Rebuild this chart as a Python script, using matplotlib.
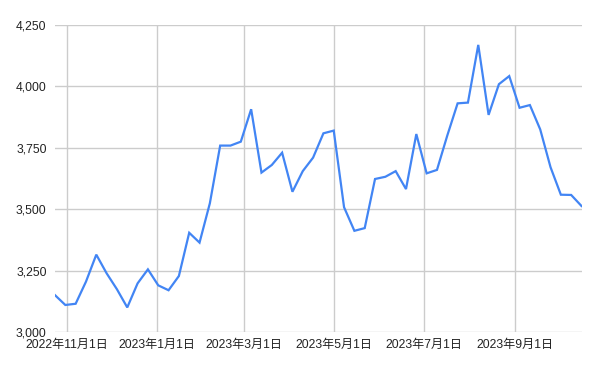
import matplotlib

matplotlib.use("Agg")
import matplotlib.dates as mdates
import matplotlib.pyplot as plt
import numpy as np
import pandas as pd
from matplotlib.ticker import FuncFormatter

plt.rcParams["font.family"] = ["Liberation Sans", "Noto Sans CJK JP", "DejaVu Sans"]

# weekly values
start = "2022-10-24"
values = [
    3150, 3110, 3115, 3205, 3315, 3239, 3174, 3100, 3198, 3255,
    3190, 3170, 3228, 3404, 3364, 3524, 3759, 3759, 3775, 3907,
    3649, 3680, 3730, 3571, 3655, 3710, 3809, 3820, 3508, 3412,
    3423, 3623, 3632, 3655, 3582, 3806, 3646, 3660, 3800, 3931,
    3934, 4169, 3884, 4009, 4042, 3913, 3924, 3825, 3671, 3559,
    3558, 3513,
]
dates = pd.date_range(start, periods=len(values), freq="7D")
y_ticks = [3000, 3250, 3500, 3750, 4000, 4250]

fig = plt.figure(figsize=(6, 3.71), dpi=100)
ax = fig.add_axes([55 / 600, 39 / 371, 526.5 / 600, 307 / 371])
ax.plot(dates, values, color="#4285F4", lw=1.6, solid_joinstyle="miter", zorder=3)

ax.set_xlim(dates[0], dates[-1])
ax.set_ylim(3000, 4250)
ax.set_yticks(y_ticks)
ax.yaxis.set_major_formatter(FuncFormatter(lambda v, _: f"{int(v):,}"))
ax.xaxis.set_major_locator(mdates.MonthLocator(bymonth=[1, 3, 5, 7, 9, 11]))
ax.xaxis.set_major_formatter(
    FuncFormatter(lambda v, _: "{0.year}年{0.month}月{0.day}日".format(mdates.num2date(v)))
)

ax.grid(True, color="#cccccc", lw=1)
for s in ax.spines.values():
    s.set_visible(False)
ax.tick_params(length=0, labelsize=8.7, colors="#222222", pad=6)
ax.tick_params(axis="x", pad=5)

fig.savefig("out.png", dpi=100)
